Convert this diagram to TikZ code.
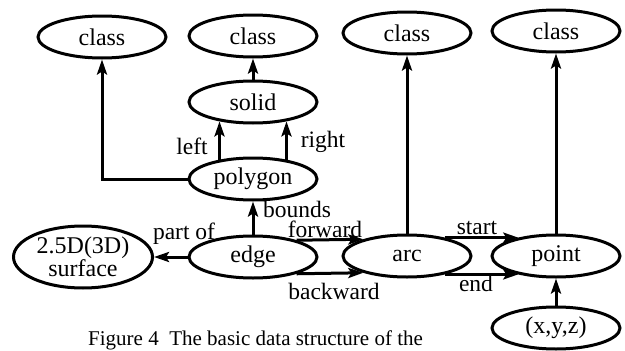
\documentclass[tikz,border=0pt]{standalone}
\usepackage{fontspec}
\setmainfont{Liberation Serif}
\usetikzlibrary{shapes.geometric,arrows.meta}
\begin{document}
\begin{tikzpicture}[x=1pt,y=-1pt,
  ent/.style={ellipse, draw, line width=3pt, minimum width=128pt, minimum height=42pt,
    inner sep=0pt, font=\fontsize{24}{23}\selectfont, align=center},
  link/.style={line width=3pt, -{Stealth[length=15pt,width=10pt,inset=3pt]}},
  lbl/.style={inner sep=0pt, font=\fontsize{23.5}{24}\selectfont}]
\useasboundingbox (0,0) rectangle (625,351);

% entities
\node[ent] (class1) at (102,37) {class};
\node[ent] (class2) at (253,36) {class};
\node[ent] (class3) at (407,33) {class};
\node[ent] (class4) at (556,31) {class};
\node[ent] (solid) at (253,102) {solid};
\node[ent] (polygon) at (253,179) {polygon};
\node[ent] (edge) at (253,257) {edge};
\node[ent, minimum width=139pt, minimum height=62pt] (surface) at (83,257) {2.5D(3D)\\surface};
\node[ent] (arc) at (407,256) {arc};
\node[ent] (point) at (556,256) {point};
\node[ent] (xyz) at (556,328) {(x,y,z)};

% relations
\draw[link] (polygon.west) -| (class1.south);
\draw[link] (solid) -- (class2);
\draw[link] (polygon.150) -- (solid.210);
\draw[link] (polygon.30) -- (solid.330);
\draw[link] (edge) -- (polygon);
\draw[link] (edge) -- (surface);
\draw[link] (edge.21) -- (arc.159);
\draw[link] (edge.-21) -- (arc.201);
\draw[link] (arc) -- (class3);
\draw[link] (arc.26) -- (point.154);
\draw[link] (arc.-26) -- (point.206);
\draw[link] (point) -- (class4);
\draw[link] (xyz) -- (point);

% labels
\node[lbl] (tleft) at (192,146) {left};
\node[lbl] (tright) at (323,142) {right};
\node[lbl] (tbounds) at (297,209) {bounds};
\node[lbl] (tpartof) at (184,234) {part of};
\node[lbl] (tforward) at (325,229) {forward};
\node[lbl] (tbackward) at (334,291) {backward};
\node[lbl] (tstart) at (477,228) {start};
\node[lbl] (tend) at (476,283) {end};

% caption
\node[anchor=base west, inner sep=0pt, font=\fontsize{21}{24}\selectfont] (cap) at (88,345.5)
  {Figure 4\ \ The basic data structure of the};
\end{tikzpicture}
\end{document}
